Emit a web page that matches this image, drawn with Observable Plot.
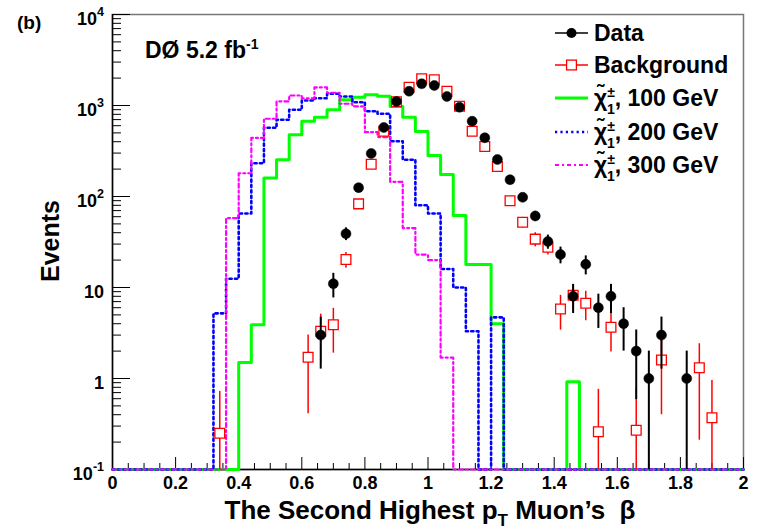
<!DOCTYPE html>
<html><head><meta charset="utf-8">
<script src="https://cdn.jsdelivr.net/npm/d3@7"></script>
<script src="https://cdn.jsdelivr.net/npm/@observablehq/plot@0.6"></script>
<style>
body{margin:0;background:#fff;}
#chart{width:759px;height:529px;}
</style></head><body><div id="chart"></div>
<script>
// ---- data ----
const binWidth = 0.04;
const dataBeta   = [0.66,0.70,0.74,0.78,0.82,0.86,0.90,0.94,0.98,1.02,1.06,1.10,1.14,1.18,1.22,1.26,1.30,1.34,1.38,1.42,1.46,1.50,1.54,1.58,1.62,1.66,1.70,1.74,1.82];
const dataEvents = [3,11,39,125,297,573,1107,1436,1731,1660,1256,957,672,442,255,153,98,61,32,23,8,18,6,8,4,2,1,3,1];
const bgBeta   = [0.34,0.62,0.66,0.70,0.74,0.78,0.82,0.86,0.90,0.94,0.98,1.02,1.06,1.10,1.14,1.18,1.22,1.26,1.30,1.34,1.38,1.42,1.46,1.50,1.54,1.58,1.66,1.74,1.86,1.90];
const bgEvents = [0.25,1.71,3.3,3.9,20.3,83,226,520,1100,1589,1965,1916,1436,982,522,354,214,90,52,34,27.7,5.8,8.2,6.7,0.26,3.66,0.27,1.6,1.31,0.37];
const bgErrors = [0.47,1.3,1.8,2.0,4,9,15,25,40,50,60,60,50,40,30,25,18,10,7,6,5,2.4,2.6,2.4,0.5,1.7,0.5,1.2,1.1,0.58];
// signal histograms, 50 bins of 0.04 from 0 to 2
const sig100 = [0,0,0,0,0,0,0,0,0,0, 1.5,3.9,160,253,476,672,744,897,1155,1234,1311,1266,975,744,518,282,175,62,17.9,17.9,4.0, 0,0,0,0,0, 0.92, 0,0,0,0,0,0,0,0,0,0,0,0,0];
const sig200 = [0,0,0,0,0,0,0,0, 5.2,12.5,65,232,569,697,897,1135,1200,1345,1256,1087,865,811,405,253,80,65,16,10,3.3,0,4.7, 0,0,0,0,0,0,0,0,0,0,0,0,0,0,0,0,0,0,0];
const sig300 = [0,0,0,0,0,0,0,0,0, 58,180,440,715,1110,1288,1200,1580,1380,1045,980,509,450,145,45,23,20,1.7, 0,0,0,0,0,0,0,0,0,0,0,0,0,0,0,0,0,0,0,0,0,0,0];
const xTickLabels = ["0","0.2","0.4","0.6","0.8","1","1.2","1.4","1.6","1.8","2"];
const yTickValues = [0.1,1,10,100,1000,10000];
const yTickBase = ["10","1","10","10","10","10"];
const yTickExp  = ["-1","","","2","3","4"];

const FONT = '"Liberation Sans", Arial, Helvetica, sans-serif';
const FLOOR = 0.1;
const GREEN = "#00ff00", BLUE = "#0000ff", MAGENTA = "#ff00ff", RED = "#ff0000";
const BLUE_DASH = "2.2,3.2", MAG_DASH = "4,3,2,3";

const stepData = vals => vals.map((v,i) => ({x: +(i*binWidth).toFixed(2), y: Math.max(v, FLOOR)}))
  .concat([{x: 2, y: Math.max(vals[vals.length-1], FLOOR)}]);
const dataPts = dataBeta.map((b,i) => ({x: b, y: dataEvents[i], lo: Math.max(dataEvents[i]-Math.sqrt(dataEvents[i]), FLOOR), hi: dataEvents[i]+Math.sqrt(dataEvents[i])}));
const bgPts = bgBeta.map((b,i) => ({x: b, y: bgEvents[i], lo: Math.max(bgEvents[i]-bgErrors[i], FLOOR), hi: bgEvents[i]+bgErrors[i]}));

const majorX = xTickLabels.map(Number);
const minorX = d3.range(0, 41).map(i => +(i*0.05).toFixed(2)).filter(v => !majorX.some(m => Math.abs(m-v) < 1e-9));
const minorY = [];
for (let e = -1; e < 4; e++) for (let k = 2; k <= 9; k++) minorY.push(k * Math.pow(10, e));

const svg = Plot.plot({
  width: 759, height: 529,
  marginLeft: 112, marginRight: 16, marginTop: 14, marginBottom: 60,
  style: {fontFamily: FONT, background: "white", color: "black"},
  x: {domain: [0, 2]},
  y: {type: "log", domain: [0.1, 1e4]},
  marks: [
    Plot.frame({stroke: "#777", strokeWidth: 1.5}),
    Plot.axisX({ticks: minorX, tickSize: -6, tickFormat: () => "", label: null, strokeWidth: 1}),
    Plot.axisX({ticks: majorX, tickSize: -12, tickFormat: () => "", label: null, strokeWidth: 1}),
    Plot.axisX({ticks: majorX, tickSize: 0, tickPadding: 7, tickFormat: (d, i) => xTickLabels[i], label: null, fontSize: 18, fontWeight: "bold"}),
    Plot.axisY({ticks: minorY, tickSize: -9, tickFormat: () => "", label: null, strokeWidth: 1}),
    Plot.axisY({ticks: yTickValues, tickSize: -18, tickFormat: () => "", label: null, strokeWidth: 1}),
    Plot.ruleX([0], {stroke: "black", strokeWidth: 1.5}),
    Plot.ruleY([0.1], {stroke: "black", strokeWidth: 1.5}),
    Plot.line(stepData(sig100), {x: "x", y: "y", curve: "step-after", stroke: GREEN, strokeWidth: 3}),
    Plot.line(stepData(sig200), {x: "x", y: "y", curve: "step-after", stroke: BLUE, strokeWidth: 2.6, strokeDasharray: BLUE_DASH}),
    Plot.line(stepData(sig300), {x: "x", y: "y", curve: "step-after", stroke: MAGENTA, strokeWidth: 2.2, strokeDasharray: MAG_DASH}),
    Plot.ruleX(bgPts, {x: "x", y1: "lo", y2: "hi", stroke: RED, strokeWidth: 1.5}),
    Plot.dot(bgPts, {x: "x", y: "y", symbol: "square", r: 5.5, stroke: RED, strokeWidth: 1.3, fill: "white"}),
    Plot.ruleX(dataPts, {x: "x", y1: "lo", y2: "hi", stroke: "black", strokeWidth: 2}),
    Plot.dot(dataPts, {x: "x", y: "y", r: 5, fill: "black", stroke: "black", strokeWidth: 0.5})
  ]
});
document.getElementById("chart").appendChild(svg);

const S = d3.select(svg);
const ys = svg.scale("y");
const ann = S.append("g").attr("font-family", FONT).attr("font-weight", "bold").attr("fill", "black").attr("text-anchor", "start");

// y tick labels (with superscript exponents)
yTickValues.forEach((v, i) => {
  const t = ann.append("text").attr("x", 104).attr("y", ys.apply(v) + 11).attr("text-anchor", "end").attr("font-size", 18);
  t.append("tspan").text(yTickBase[i]);
  if (yTickExp[i]) t.append("tspan").attr("dy", -9).attr("font-size", 12.5).text(yTickExp[i]);
});
// panel label
ann.append("text").attr("x", 17).attr("y", 29).attr("font-size", 19).text("(b)");
// experiment label
const d0 = ann.append("text").attr("x", 145).attr("y", 58).attr("font-size", 23);
d0.append("tspan").text("DØ 5.2 fb");
d0.append("tspan").attr("dy", -9).attr("font-size", 14).text("-1");
// axis titles
const xt = ann.append("text").attr("x", 430).attr("y", 519).attr("text-anchor", "middle").attr("font-size", 26);
xt.append("tspan").text("The Second Highest p");
xt.append("tspan").attr("dy", 7).attr("font-size", 17).text("T");
xt.append("tspan").attr("dy", -7).text(" Muon\u2019s  β");
ann.append("text").attr("transform", "translate(59,241) rotate(-90)").attr("text-anchor", "middle").attr("font-size", 25).text("Events");

// legend
const leg = ann.append("g").attr("font-size", 23);
const rows = [
  {y: 33, kind: "data", label: "Data"},
  {y: 65, kind: "bg", label: "Background"},
  {y: 98, kind: "line", color: GREEN, dash: null, w: 3, mass: "100"},
  {y: 132, kind: "line", color: BLUE, dash: BLUE_DASH, w: 2.6, mass: "200"},
  {y: 165, kind: "line", color: MAGENTA, dash: MAG_DASH, w: 2.2, mass: "300"}
];
rows.forEach(r => {
  const x0 = 555, x1 = 588;
  if (r.kind === "data") {
    leg.append("line").attr("x1", x0).attr("x2", x1).attr("y1", r.y).attr("y2", r.y).attr("stroke", "black").attr("stroke-width", 1.5);
    leg.append("circle").attr("cx", (x0+x1)/2).attr("cy", r.y).attr("r", 5).attr("fill", "black");
  } else if (r.kind === "bg") {
    leg.append("line").attr("x1", x0).attr("x2", x1).attr("y1", r.y).attr("y2", r.y).attr("stroke", RED).attr("stroke-width", 1.3);
    leg.append("rect").attr("x", (x0+x1)/2-4.9).attr("y", r.y-4.9).attr("width", 9.8).attr("height", 9.8).attr("fill", "white").attr("stroke", RED).attr("stroke-width", 1.3);
  } else {
    leg.append("line").attr("x1", x0).attr("x2", x1).attr("y1", r.y).attr("y2", r.y).attr("stroke", r.color).attr("stroke-width", r.w).attr("stroke-dasharray", r.dash);
  }
  const t = leg.append("text").attr("x", 594).attr("y", r.y + 8);
  if (r.label) t.text(r.label);
  else {
    t.append("tspan").text("\u03C7\u0303");
    t.append("tspan").attr("dy", -9).attr("font-size", 14).text("±");
    t.append("tspan").attr("dx", -8).attr("dy", 17).attr("font-size", 14).text("1");
    t.append("tspan").attr("dy", -8).text(", " + r.mass + " GeV");
  }
});
</script></body></html>
